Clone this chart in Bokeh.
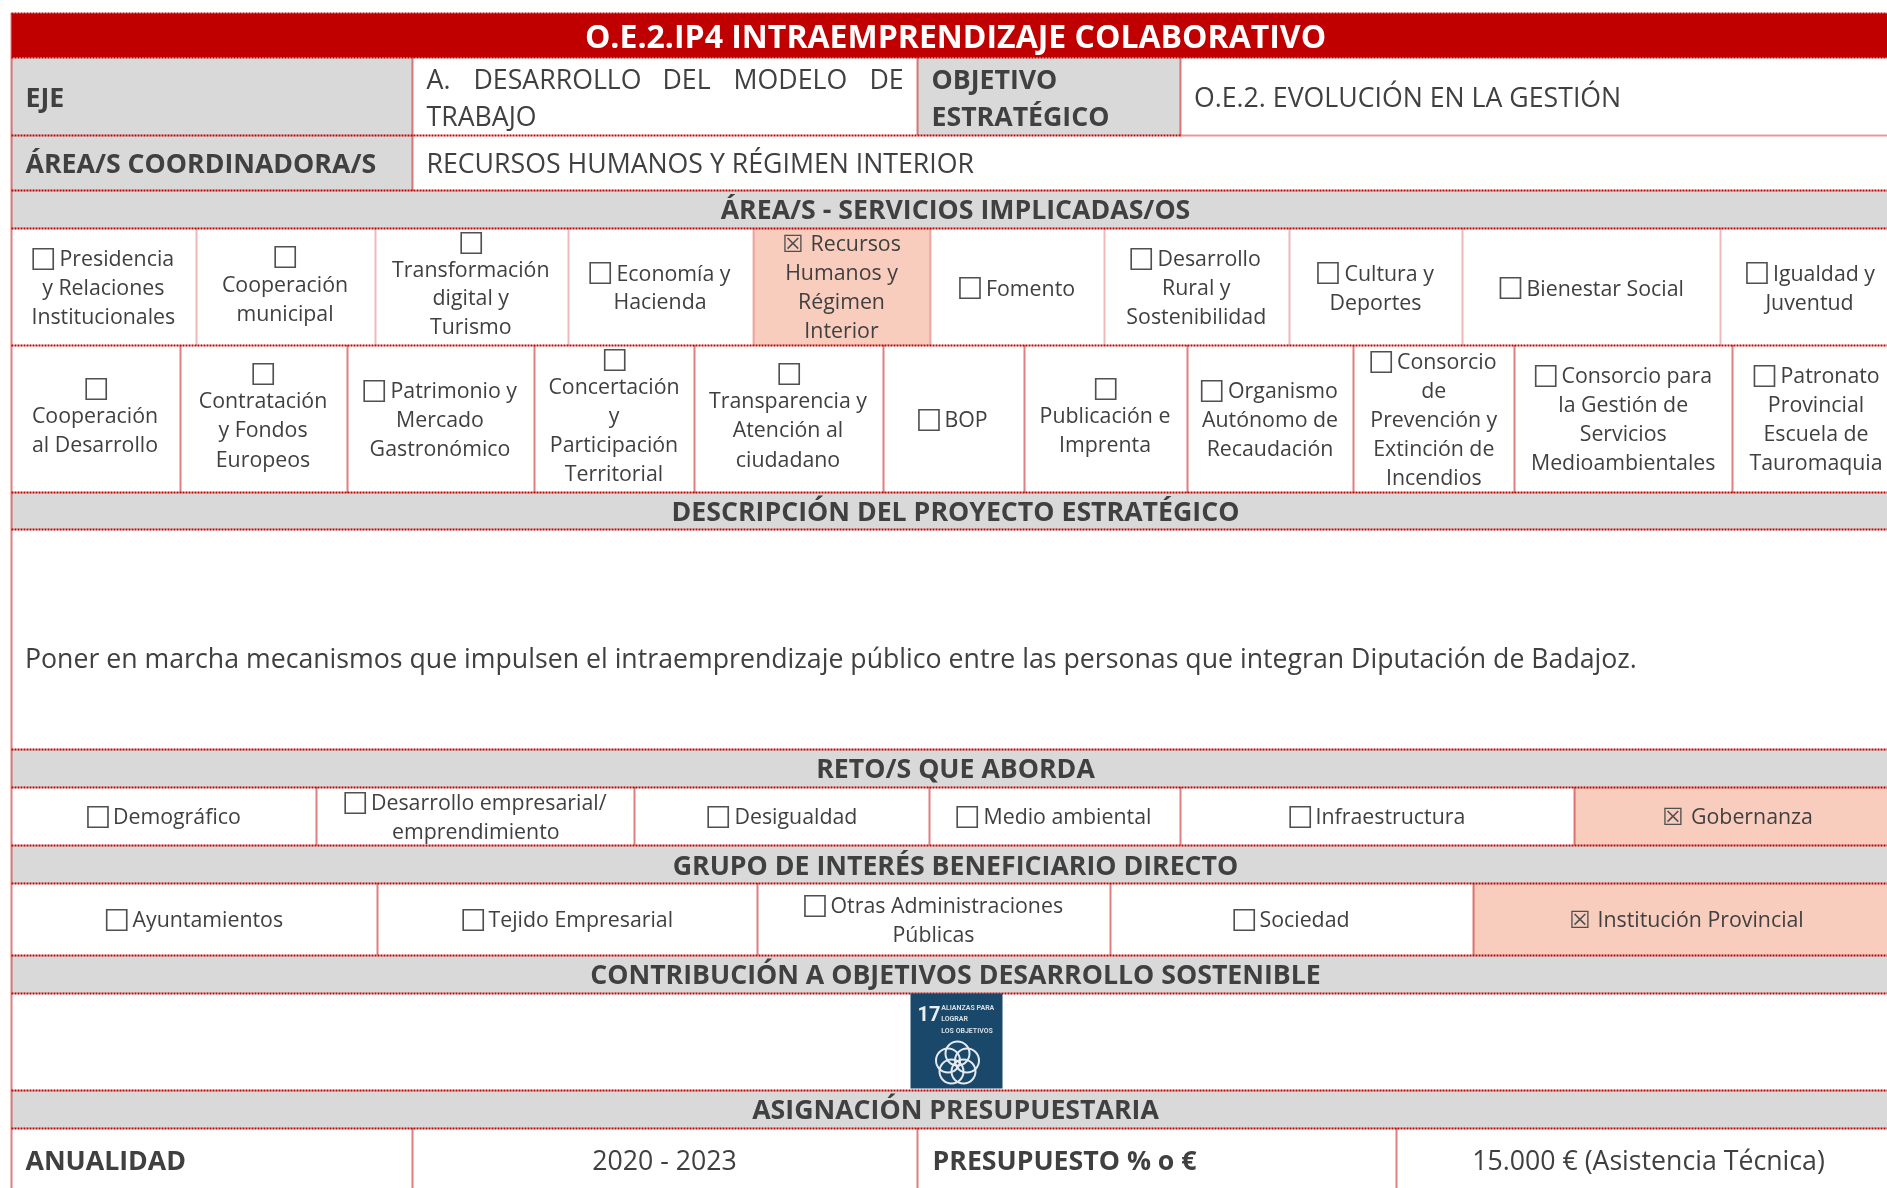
from bokeh.plotting import figure
from bokeh.models import Range1d, ColumnDataSource
from bokeh.core.properties import value
from bokeh.embed import file_html
from bokeh.resources import INLINE

W, H = 1887, 1188
FONT = "Open Sans"
INK = "#404040"
RED = "#C00000"
GREY = "#D9D9D9"
PEACH = "#F9CDBD"

title = "O.E.2.IP4 INTRAEMPRENDIZAJE COLABORATIVO"
section_headers = ["ÁREA/S - SERVICIOS IMPLICADAS/OS", "DESCRIPCIÓN DEL PROYECTO ESTRATÉGICO", "RETO/S QUE ABORDA",
                   "GRUPO DE INTERÉS BENEFICIARIO DIRECTO", "CONTRIBUCIÓN A OBJETIVOS DESARROLLO SOSTENIBLE",
                   "ASIGNACIÓN PRESUPUESTARIA"]
header_baselines = [218, 520, 777, 874, 983.5, 1118.5]

bold_labels = ["EJE", "OBJETIVO", "ESTRATÉGICO", "ÁREA/S COORDINADORA/S", "ANUALIDAD", "PRESUPUESTO % o €"]
bold_x = [25, 931, 931, 25, 25, 932]
bold_y = [106.7, 88, 125, 172.5, 1169.5, 1169.5]

large_labels = ["A.", "DESARROLLO", "DEL", "MODELO", "DE", "TRABAJO", "O.E.2. EVOLUCIÓN EN LA GESTIÓN",
                "RECURSOS HUMANOS Y RÉGIMEN INTERIOR",
                "Poner en marcha mecanismos que impulsen el intraemprendizaje público entre las personas que integran Diputación de Badajoz."]
large_x = [426, 473, 662, 733, 869, 426, 1193.5, 426, 24.5]
large_y = [88, 88, 88, 88, 88, 125, 106.7, 172.5, 667]

centred_large_labels = ["2020 - 2023", "15.000 € (Asistencia Técnica)"]
centred_large_x = [664, 1648]
centred_large_y = [1169.5, 1169.5]

# Option labels beside a box, left aligned
left_labels = ["Presidencia", "Economía y", "Recursos", "Fomento", "Desarrollo", "Cultura y", "Bienestar Social", "Igualdad y",
               "Patrimonio y", "BOP", "Organismo", "Consorcio", "Consorcio para", "Patronato",
               "Demográfico", "Desarrollo empresarial/", "Desigualdad", "Medio ambiental", "Infraestructura", "Gobernanza",
               "Ayuntamientos", "Tejido Empresarial", "Otras Administraciones", "Sociedad", "Institución Provincial"]
left_x = [59, 616, 810, 985.5, 1157, 1344, 1526, 1772.5,
          390, 944, 1227.5, 1396.5, 1561, 1780,
          112.5, 370.5, 734, 983, 1315, 1690.5,
          132, 488, 830, 1259, 1597]
left_y = [266, 280.7, 251, 295.5, 266, 280.7, 295.5, 280.7,
          398, 426.7, 398, 369, 383, 383,
          824, 810, 824, 824, 824, 824,
          926.7, 926.7, 912.7, 926.7, 926.7]

# Continuation lines, centred
centre_labels = ["y Relaciones", "Institucionales", "Cooperación", "municipal", "Transformación", "digital y", "Turismo",
                 "Hacienda", "Humanos y", "Régimen", "Interior", "Rural y", "Sostenibilidad", "Deportes", "Juventud",
                 "Cooperación", "al Desarrollo", "Contratación", "y Fondos", "Europeos", "Mercado", "Gastronómico",
                 "Concertación", "y", "Participación", "Territorial", "Transparencia y", "Atención al", "ciudadano",
                 "Publicación e", "Imprenta", "Autónomo de", "Recaudación", "de", "Prevención y", "Extinción de", "Incendios",
                 "la Gestión de", "Servicios", "Medioambientales", "Provincial", "Escuela de", "Tauromaquia",
                 "emprendimiento", "Públicas"]
centre_x = [102.8, 102.8, 284.5, 284.5, 470.3, 470.3, 470.3,
            659.5, 841, 841, 841, 1195.8, 1195.8, 1375, 1809,
            94.5, 94.5, 262.5, 262.5, 262.5, 439.5, 439.5,
            613.5, 613.5, 613.5, 613.5, 787.5, 787.5, 787.5,
            1104.5, 1104.5, 1269.5, 1269.5, 1433.3, 1433.3, 1433.3, 1433.3,
            1622.7, 1622.7, 1622.7, 1815.5, 1815.5, 1815.5,
            475.3, 933]
centre_y = [295, 324, 292, 320.5, 276.7, 305, 334,
            309.4, 280, 309, 338, 295, 324, 309.7, 309.7,
            423, 452, 408, 437, 466.7, 427, 456,
            394, 423, 452, 481, 408, 437, 466.7,
            423, 452, 427, 456, 398, 427, 456, 485,
            412, 441, 470, 412, 441, 470,
            839, 941.7]

# Check boxes
unchecked_left = [32, 274, 460, 589, 958.6, 1130, 1316.8, 1499.2, 1745.6,
                  85, 252, 363, 603.5, 778, 917.7, 1094.5, 1200.5, 1370, 1534.4, 1753.2,
                  86.7, 344, 707, 956, 1289,
                  105.5, 462, 803.6, 1233]
unchecked_top = [249, 247, 233, 263, 278, 249, 263, 278, 263,
                 379, 364, 381, 350, 364, 410, 379, 381, 352, 366, 366,
                 807, 793, 807, 807, 807,
                 910, 910, 896, 910]
checked_left = [783, 1663, 1570]
checked_top = [236, 809, 912]

# Table structure
hlines_strong = [(11, W, 13), (11, W, 57), (11, 1180, 135), (11, W, 190), (11, W, 228), (11, W, 345), (11, W, 492), (11, W, 529),
                 (11, W, 749), (11, W, 787), (11, W, 845), (11, W, 883), (11, W, 955), (11, W, 993), (11, W, 1090), (11, W, 1128)]
hlines_light = [(1180, W, 135)]
grey_bands = [(13, 57, RED), (190, 228, GREY), (492, 529, GREY), (749, 787, GREY), (845, 883, GREY), (955, 993, GREY), (1090, 1128, GREY)]
grey_cells = [(11, 412, 57, 135), (917, 1180, 57, 135), (11, 412, 135, 190)]
peach_cells = [(753, 930, 228, 345), (1574, W, 787, 845), (1473, W, 883, 955)]
verticals_light = [(196, 228, 345), (375, 228, 345), (568, 228, 345), (753, 228, 345), (930, 228, 345), (1104, 228, 345), (1289, 228, 345), (1462, 228, 345), (1720, 228, 345)]
verticals_dark = [(412, 57, 190), (917, 57, 135), (1180, 57, 135),
                  (180, 345, 492), (347, 345, 492), (534, 345, 492), (694, 345, 492), (883, 345, 492), (1024, 345, 492), (1187, 345, 492), (1353, 345, 492), (1514, 345, 492), (1732, 345, 492),
                  (316, 787, 845), (634, 787, 845), (929, 787, 845), (1180, 787, 845), (1574, 787, 845),
                  (377, 883, 955), (757, 883, 955), (1110, 883, 955), (1473, 883, 955),
                  (412, 1128, H), (917, 1128, H), (1396, 1128, H), (11, 13, H)]

# SDG 17 tile
sdg_box = (910, 1002, 993, 1088)
sdg_number = "17"
sdg_lines = ["ALIANZAS PARA", "LOGRAR", "LOS OBJETIVOS"]
sdg_line_y = [1010, 1021, 1033]
ring_x = [957, 966.5, 963, 951, 947.5]
ring_y = [1053, 1060, 1071, 1071, 1060]

p = figure(width=W, height=H, x_range=Range1d(0, W), y_range=Range1d(H, 0), output_backend="svg",
           toolbar_location=None, min_border=0, outline_line_color=None, background_fill_color="white",
           border_fill_color="white", styles={"position": "fixed", "left": "0", "top": "0"})
p.axis.visible = False
p.grid.visible = False

# fills
for top, bottom, colour in grey_bands:
    p.quad(left=[11], right=[W], top=[top], bottom=[bottom], fill_color=colour, line_color=None)
for group, colour in ((grey_cells, GREY), (peach_cells, PEACH)):
    p.quad(left=[c[0] for c in group], right=[c[1] for c in group], top=[c[2] for c in group], bottom=[c[3] for c in group],
           fill_color=colour, line_color=None)


def hseg(rows, width, dash, alpha):
    p.segment(x0=[r[0] for r in rows], x1=[r[1] for r in rows], y0=[r[2] for r in rows], y1=[r[2] for r in rows],
              line_color=RED, line_width=width, line_dash=dash, line_alpha=alpha)


def vseg(rows, width, dash, alpha):
    p.segment(x0=[r[0] for r in rows], x1=[r[0] for r in rows], y0=[r[1] for r in rows], y1=[r[2] for r in rows],
              line_color=RED, line_width=width, line_dash=dash, line_alpha=alpha)


hseg(hlines_strong, 2, "2 1", 1)
hseg(hlines_light, 2, "1 1", 0.8)
vseg(verticals_light, 2, "1 1", 0.55)
vseg(verticals_dark, 2, "1 1", 1)


def put(labels, xs, ys, size, align="left", style="normal", colour=INK, font=FONT, lift=0.385):
    src = ColumnDataSource(dict(x=xs, y=[y - lift * size for y in ys], t=labels))
    p.text(x="x", y="y", text="t", source=src, text_font=value(font), text_font_size=f"{size}px",
           text_font_style=style, text_color=colour, text_align=align, text_baseline="alphabetic")


put([title], [955], [47], 32, "center", "bold", "white", lift=0.36)
put(section_headers, [955] * len(section_headers), header_baselines, 26.7, "center", "bold")
put(bold_labels, bold_x, bold_y, 26.7, "left", "bold")
put(large_labels, large_x, large_y, 26.7)
put(centred_large_labels, centred_large_x, centred_large_y, 26.7, "center")
put(left_labels, left_x, left_y, 21.33, lift=0.42)
put(centre_labels, centre_x, centre_y, 21.33, "center", lift=0.42)

BOX = 30
put(["☐"] * len(unchecked_left), [x + 10.5 for x in unchecked_left], [y + 21 - 0.12 * BOX for y in unchecked_top], BOX,
    "center", colour="#505050", font="DejaVu Sans", lift=0.25)
XBOX = 24
put(["☒"] * len(checked_left), [x + 9.5 for x in checked_left], [y + 16 - 0.12 * XBOX for y in checked_top], XBOX,
    "center", colour="#505050", font="DejaVu Sans", lift=0.25)

# SDG tile
p.quad(left=[sdg_box[0]], right=[sdg_box[1]], top=[sdg_box[2]], bottom=[sdg_box[3]], fill_color="#19486A", line_color=None)
put([sdg_number], [917], [1021], 20, "left", "bold", "#E8EEF2", "Roboto")
put(sdg_lines, [940.7] * 3, sdg_line_y, 7, "left", "bold", "#D5DEE5", "Roboto")
p.circle(x=ring_x, y=ring_y, radius=12, fill_color=None, line_color="#E4EAEE", line_width=2)

open("out.html", "w").write(file_html(p, INLINE))
